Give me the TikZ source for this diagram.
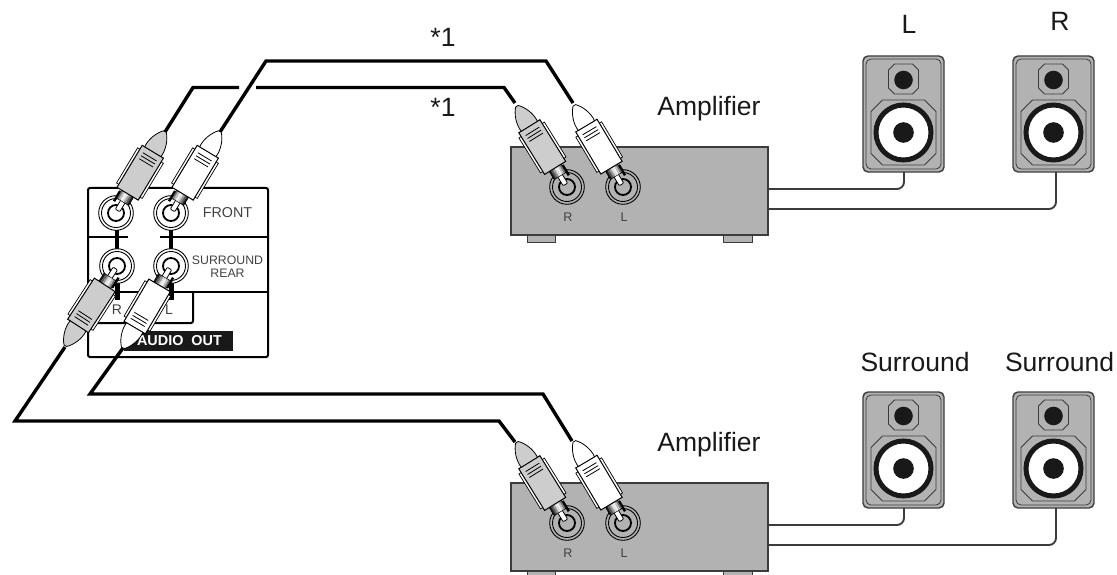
\documentclass[tikz,border=0pt]{standalone}
\usepackage{fontspec}
\setmainfont{Liberation Sans}
\definecolor{ampgray}{HTML}{B2B2B2}
\definecolor{pluggray}{HTML}{CDCDCD}
\definecolor{edge}{HTML}{3C3C3C}
\newcommand{\fs}[1]{\fontsize{#1}{#1}\selectfont}
\tikzset{
  x=1pt,y=-1pt,
  cable/.style={line width=3.4pt,black,line join=miter},
  spkwire/.style={line width=1.9pt,edge,rounded corners=7pt},
  panelline/.style={line width=2pt,black},
  bigtext/.style={inner sep=0pt,font=\fs{26.5},text=black!90},
  smalltext/.style={inner sep=0pt,text=black!75,align=center},
  pics/rca/.style n args={2}{code={
    \draw[black,line width=.8pt,fill=white,rounded corners=1pt] (3,-2.6) rectangle (15,2.6);
    \fill[black] (9,{#2*6.5}) rectangle (21,{#2*9});
    \foreach \p/\g in {-7/90,-5/65,-3/40,-1/12,1/5,3/25,5/55}{
      \fill[black!\g!white] (13,{#2*\p}) rectangle (23,{#2*(\p+2)});
    }
    \draw[black,line width=.5pt] (13,-7) rectangle (23,7);
    \draw[black,line width=.7pt,fill=white] (26,-15) rectangle (67,15);
    \draw[black,line width=1pt,fill=#1] (22.5,-12.4) rectangle (71.5,12.4);
    \draw[black,line width=.8pt,fill=#1] (71.5,-9.5) .. controls (80,-10.5) and (90,-6.5) .. (95,-1.5) -- (95,1.5) .. controls (90,6.5) and (80,10.5) .. (71.5,9.5) -- cycle;
    \foreach \s in {58.5,62,65.5}{\draw[black,line width=.8pt] (\s,-8) -- (\s,8);}
  }},
  pics/jack/.style={code={
    \draw[black,line width=.9pt,fill=#1] (0,0) circle[radius=17.3pt];
    \draw[black,line width=.9pt,fill=#1] (0,0) circle[radius=14.5pt];
    \draw[black,line width=1.8pt,fill=#1] (0,0) circle[radius=8pt];
  }},
  pics/speaker/.style={code={
    \draw[edge,line width=1.4pt,fill=ampgray,rounded corners=5pt] (-40.5,-76.5) rectangle (40.5,39.5);
    \draw[edge,line width=.8pt,rounded corners=5pt] (-37.5,-73.5) rectangle (37.5,36.5);
    \draw[edge,line width=.8pt] (-9,-68.5) -- (9,-68.5) -- (15,-62.5) -- (15,-44.5) -- (9,-38.5) -- (-9,-38.5) -- (-15,-44.5) -- (-15,-62.5) -- cycle;
    \fill[black!90] (0,-52.5) circle[radius=9.3pt];
    \draw[edge,line width=.8pt] (-21,-32.5) -- (21,-32.5) -- (32.5,-21) -- (32.5,21) -- (21,32.5) -- (-21,32.5) -- (-32.5,21) -- (-32.5,-21) -- cycle;
    \draw[black!90,line width=5pt,fill=white] (0,0) circle[radius=27.5pt];
    \fill[black!90] (0,0) circle[radius=10.3pt];
  }}
}
\begin{document}
\begin{tikzpicture}
\useasboundingbox (0,0) rectangle (1117,575);
% coordinates of the cable ends
\coordinate (tipFL) at (220,132);
\coordinate (tipFR) at (165,132);
\coordinate (tipRL) at (123,348);
\coordinate (tipRR) at (65,347);
\coordinate (tipAR) at (515,103);
\coordinate (tipAL) at (573,103);
\coordinate (tipBR) at (515,442);
\coordinate (tipBL) at (572,441);
\coordinate (gapA) at (239,87.5);
\coordinate (gapB) at (256,87.5);
% cables
\draw[cable] (tipFL) -- (266,61) -- (546,61) -- (tipAL);
\draw[cable] (tipFR) -- (193,87.5) -- (gapA);
\draw[cable] (gapB) -- (504,87.5) -- (tipAR);
\draw[cable] (tipRL) -- (90,394) -- (543,394) -- (tipBL);
\draw[cable] (tipRR) -- (15,421) -- (499,421) -- (tipBR);
% panel
\draw[panelline,rounded corners=2pt] (88,188) rectangle (268,357);
\draw[panelline] (88,237) -- (128,237) (160,237) -- (268,237);
\draw[panelline] (88,292) -- (268,292);
\draw[panelline,rounded corners=2pt] (88,323) -- (193,323) -- (193,292);
\fill[black] (117,230) ++(-2,0) rectangle ++(4,20);
\fill[black] (171,230) ++(-2,0) rectangle ++(4,20);
\fill[black] (117,283) ++(-2.5,0) rectangle ++(5,17);
\fill[black] (171,283) ++(-2.5,0) rectangle ++(5,17);
\node[fill=black!90,minimum width=109pt,minimum height=20pt,inner sep=0pt] (audiobox) at (178.5,341) {};
\node[inner sep=0pt,font=\fs{14.4}\bfseries,text=white] (audio) at (179.5,341) {AUDIO\ \ OUT};
\node[smalltext,font=\fs{14.3}] (front) at (227.5,213) {FRONT};
\node[smalltext,font=\fs{12.3}] (surround) at (227.5,260) {SURROUND};
\node[smalltext,font=\fs{12.3}] (rear) at (227.5,273) {REAR};
\node[smalltext,font=\fs{14}] (pr) at (117,310) {R};
\node[smalltext,font=\fs{14}] (pl) at (169,310) {L};
% jacks and plugs on the panel
\pic at (116,213) {jack=white};
\pic at (171,213) {jack=white};
\pic at (117,266) {jack=white};
\pic at (171,266) {jack=white};
\pic[rotate=59] at (116,213) {rca={pluggray}{-1}};
\pic[rotate=59] at (171,213) {rca={white}{-1}};
\pic[rotate=237] at (117,266) {rca={pluggray}{-1}};
\pic[rotate=239.5] at (171,266) {rca={white}{-1}};
% amplifiers
\foreach \yy/\nm in {0/a,336/b}{
  \begin{scope}[yshift=-\yy pt]
  \draw[edge,line width=1pt,fill=ampgray] (527,235) rectangle (555,242);
  \draw[edge,line width=1pt,fill=ampgray] (723,235) rectangle (752,242);
  \draw[edge,line width=1.3pt,fill=ampgray] (511,147) rectangle (768,235);
  \pic at (567,187) {jack=ampgray};
  \pic at (623,187) {jack=ampgray};
  \pic[rotate=121.8] at (567,187) {rca={pluggray}{1}};
  \pic[rotate=120.8] at (623,187) {rca={white}{1}};
  \node[smalltext,font=\fs{12.5}] (r\nm) at (568,217) {R};
  \node[smalltext,font=\fs{12.5}] (l\nm) at (624,217) {L};
  \node[bigtext] (amp\nm) at (709,109) {Amplifier};
  \draw[spkwire] (768,189) -- (904,189) -- (904,172);
  \draw[spkwire] (768,209) -- (1056,209) -- (1056,172);
  \pic at (903.5,132.5) {speaker};
  \pic at (1053.5,132.5) {speaker};
  \end{scope}
}
\node[bigtext] (star1) at (443,37) {*1};
\node[bigtext] (star2) at (443,107) {*1};
\node[bigtext] (lbl) at (909,24) {L};
\node[bigtext] (lbr) at (1060,21) {R};
\node[bigtext] (s1) at (915,362) {Surround};
\node[bigtext] (s2) at (1059.5,362) {Surround};
\end{tikzpicture}
\end{document}
